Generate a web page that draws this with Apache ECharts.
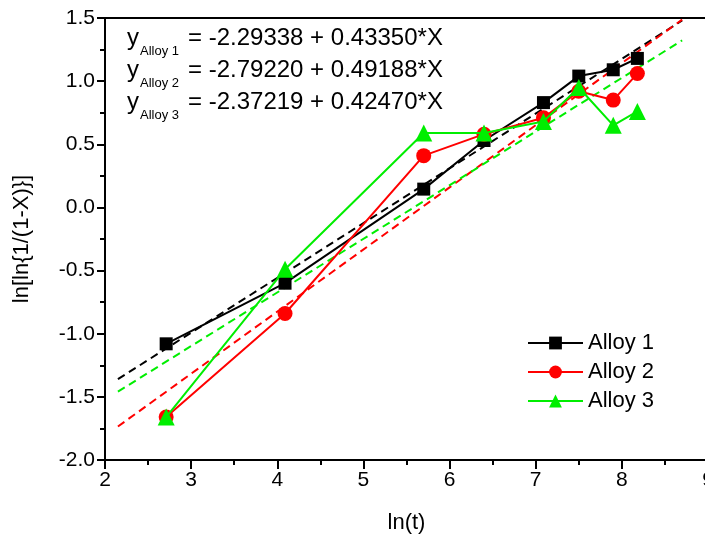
<!DOCTYPE html>
<html>
<head>
<meta charset="utf-8">
<script src="https://cdn.jsdelivr.net/npm/echarts@6/dist/echarts.min.js"></script>
<style>html,body{margin:0;padding:0;background:#fff;}#c{width:705px;height:542px;}</style>
</head>
<body>
<div id="c"></div>
<script>
var lnT = [2.71, 4.09, 5.70, 6.40, 7.09, 7.50, 7.90, 8.18];
var alloy1 = [-1.08, -0.60, 0.145, 0.53, 0.83, 1.04, 1.09, 1.18];
var alloy2 = [-1.66, -0.84, 0.41, 0.58, 0.71, 0.92, 0.85, 1.06];
var alloy3 = [-1.66, -0.49, 0.59, 0.59, 0.68, 0.95, 0.65, 0.76];
var fitX = [2.15, 8.7];
var fit1 = [-1.36, 1.48];
var fit2 = [-1.735, 1.487];
var fit3 = [-1.459, 1.323];
var seriesNames = ['Alloy 1', 'Alloy 2', 'Alloy 3'];
var equations = ['= -2.29338 + 0.43350*X', '= -2.79220 + 0.49188*X', '= -2.37219 + 0.42470*X'];
var xTicks = [2, 3, 4, 5, 6, 7, 8, 9];
var yTicks = [-2.0, -1.5, -1.0, -0.5, 0.0, 0.5, 1.0, 1.5];

function pairs(xs, ys) { return xs.map(function (x, i) { return [x, ys[i]]; }); }
var FONT = 'Liberation Sans, Arial, sans-serif';
var colors = ['#000000', '#ff0000', '#00ee00'];

var chart = echarts.init(document.getElementById('c'));
var fitSeries = [fit1, fit2, fit3].map(function (f, i) {
  return {
    type: 'line', data: pairs(fitX, f), symbol: 'none', silent: true,
    lineStyle: { color: colors[i], width: 2, type: [8, 5] }, z: 1
  };
});
var symbols = ['rect', 'circle', 'triangle'];
var sizes = [13, 15, 17];
var dataSeries = [alloy1, alloy2, alloy3].map(function (d, i) {
  return {
    name: seriesNames[i], type: 'line', data: pairs(lnT, d),
    symbol: symbols[i], symbolSize: sizes[i], showSymbol: true,
    lineStyle: { color: colors[i], width: 2 },
    itemStyle: { color: colors[i] }, z: 3 + i
  };
});

var graphics = [];
equations.forEach(function (eq, i) {
  var cy = 41 + i * 32;
  graphics.push({ type: 'text', left: 127, top: cy - 15, style: { text: 'y', font: '24px ' + FONT, fill: '#000' } });
  graphics.push({ type: 'text', left: 140, top: cy + 4, style: { text: seriesNames[i], font: '13px ' + FONT, fill: '#000' } });
  graphics.push({ type: 'text', left: 188, top: cy - 15, style: { text: eq, font: '24px ' + FONT, fill: '#000' } });
});

chart.setOption({
  animation: false,
  backgroundColor: '#fff',
  grid: { left: 105, right: -3, top: 18, bottom: 82, show: true, borderColor: '#000', borderWidth: 2, backgroundColor: 'transparent', outerBoundsMode: 'none', containLabel: false },
  legend: {
    data: seriesNames,
    orient: 'vertical', left: 522, top: 327, itemWidth: 55, itemHeight: 16, itemGap: 7,
    lineStyle: { width: 2 },
    textStyle: { fontSize: 22, fontFamily: FONT, color: '#000' }
  },
  xAxis: {
    type: 'value', min: 2, max: 9, interval: 1,
    name: 'ln(t)', nameLocation: 'middle', nameGap: 52,
    nameTextStyle: { fontSize: 22, fontFamily: FONT, color: '#000' },
    axisLine: { show: true, onZero: false, lineStyle: { color: '#000', width: 2 } },
    axisTick: { show: true, inside: false, length: 9, lineStyle: { color: '#000', width: 2 } },
    minorTick: { show: true, splitNumber: 2, length: 5, lineStyle: { color: '#000', width: 2 } },
    splitLine: { show: false },
    axisLabel: { fontSize: 21, fontFamily: FONT, color: '#000', margin: 10, showMaxLabel: true }
  },
  yAxis: {
    type: 'value', min: -2, max: 1.5, interval: 0.5,
    name: 'ln[ln{1/(1-X)}]', nameLocation: 'middle', nameGap: 72, nameRotate: 90,
    nameTextStyle: { fontSize: 22, fontFamily: FONT, color: '#000' },
    axisLine: { show: true, onZero: false, lineStyle: { color: '#000', width: 2 } },
    axisTick: { show: true, inside: false, length: 8, lineStyle: { color: '#000', width: 2 } },
    minorTick: { show: true, splitNumber: 2, length: 5, lineStyle: { color: '#000', width: 2 } },
    splitLine: { show: false },
    axisLabel: { fontSize: 21, fontFamily: FONT, color: '#000', margin: 10, formatter: function (v) { return v.toFixed(1); } }
  },
  graphic: graphics,
  series: fitSeries.concat(dataSeries)
});
</script>
</body>
</html>
